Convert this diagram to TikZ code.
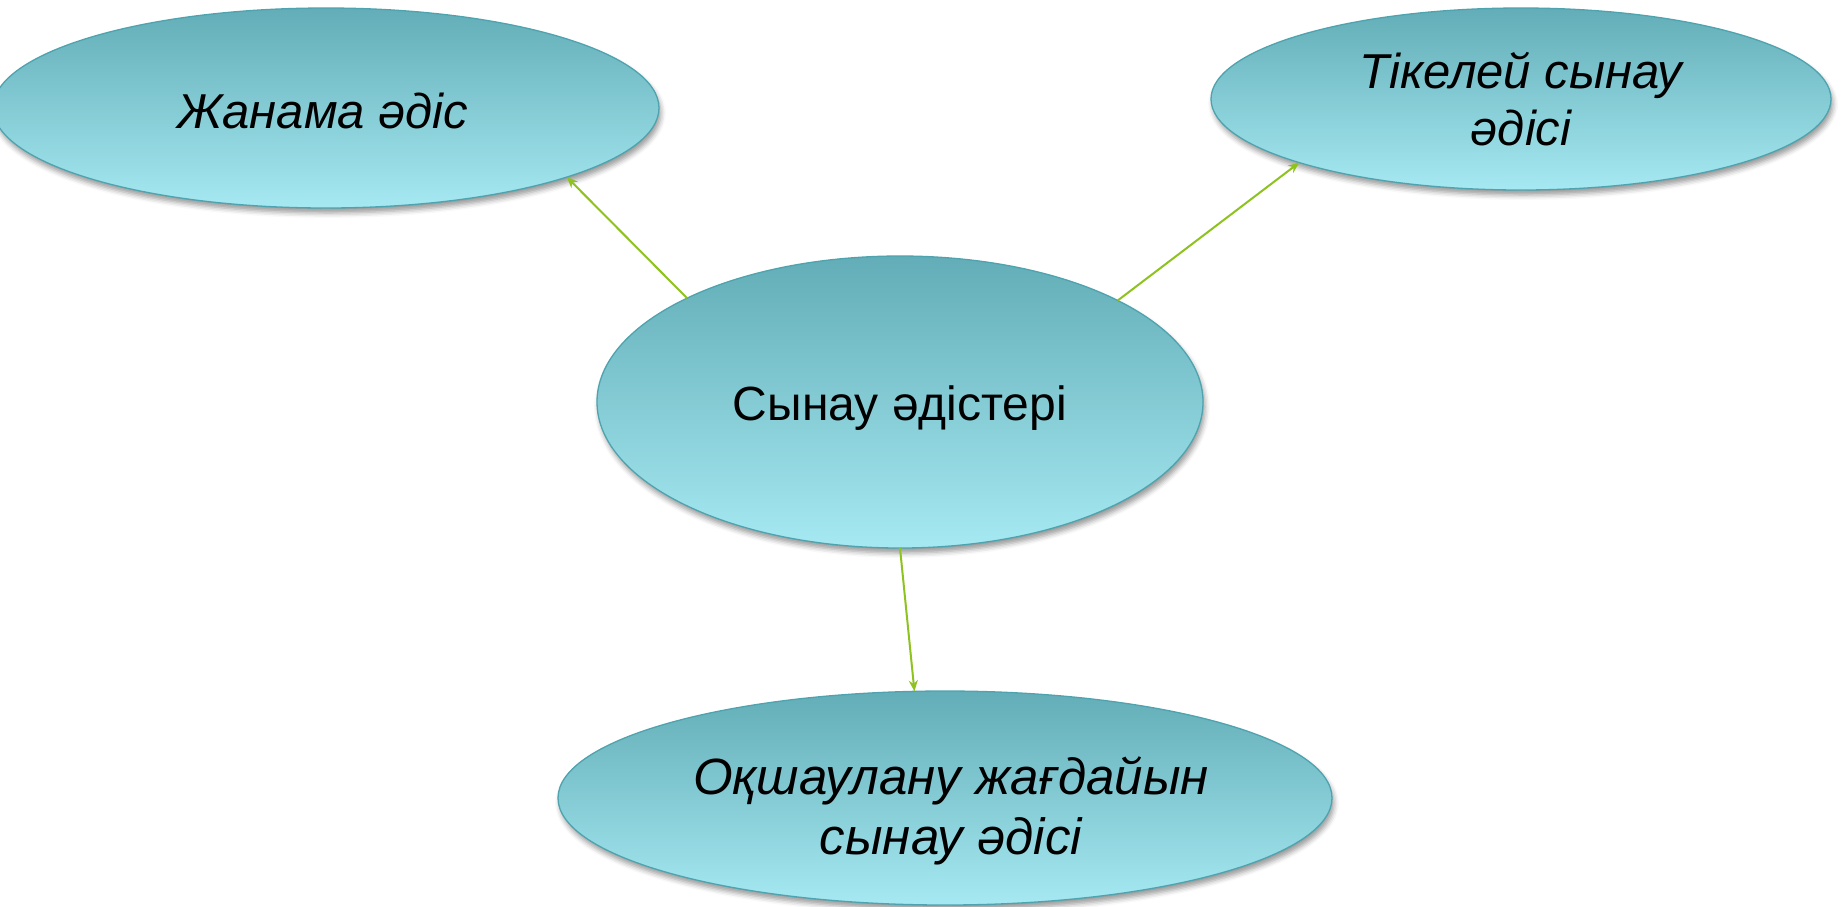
\documentclass[tikz,border=0pt]{standalone}
\usepackage{fontspec}
\setmainfont{Liberation Sans}
\usetikzlibrary{shapes.geometric,shadows.blur,arrows.meta}
\definecolor{elltop}{HTML}{62ADB7}
\definecolor{ellbot}{HTML}{A6E9F2}
\definecolor{ellline}{HTML}{4EA3AE}
\definecolor{arrgreen}{HTML}{8DC21F}
\tikzset{
  oval/.style={ellipse, draw=ellline, line width=1.3pt, top color=elltop, bottom color=ellbot,
    inner sep=0pt, outer sep=0pt,
    blur shadow={shadow xshift=2pt, shadow yshift=-5pt, shadow blur radius=5pt, shadow opacity=40}},
  ovaltext/.style={align=center, inner sep=0pt, font=\fontsize{49}{57}\selectfont\itshape},
  conn/.style={draw=arrgreen, line width=2pt, -{Stealth[length=11pt,width=9pt]}}
}
\begin{document}
\begin{tikzpicture}[x=1pt,y=-1pt]
\useasboundingbox (0,0) rectangle (1843,906);
\node[oval, minimum width=666pt, minimum height=200pt,
  label={[ovaltext, xshift=-3pt, yshift=-3pt]center:Жанама әдіс}] (tl) at (326,108) {};
\node[oval, minimum width=620pt, minimum height=182pt,
  label={[ovaltext]center:Тікелей сынау\\әдісі}] (tr) at (1521,99) {};
\node[oval, minimum width=606pt, minimum height=292pt,
  label={[ovaltext, font=\fontsize{48}{56}\selectfont, yshift=-6pt]center:Сынау әдістері}] (c) at (900,402) {};
\node[oval, minimum width=774pt, minimum height=214pt,
  label={[ovaltext, font=\fontsize{51}{60}\selectfont\itshape, xshift=6pt, yshift=-13pt]center:Оқшаулану жағдайын\\сынау әдісі}] (b) at (945,798) {};
\draw[conn] (c.154.6) -- (tl.-16.8);
\draw[conn] (c.25.7) -- (tr.196.6);
\draw[conn] (c.270) -- (b.106);
\end{tikzpicture}
\end{document}
